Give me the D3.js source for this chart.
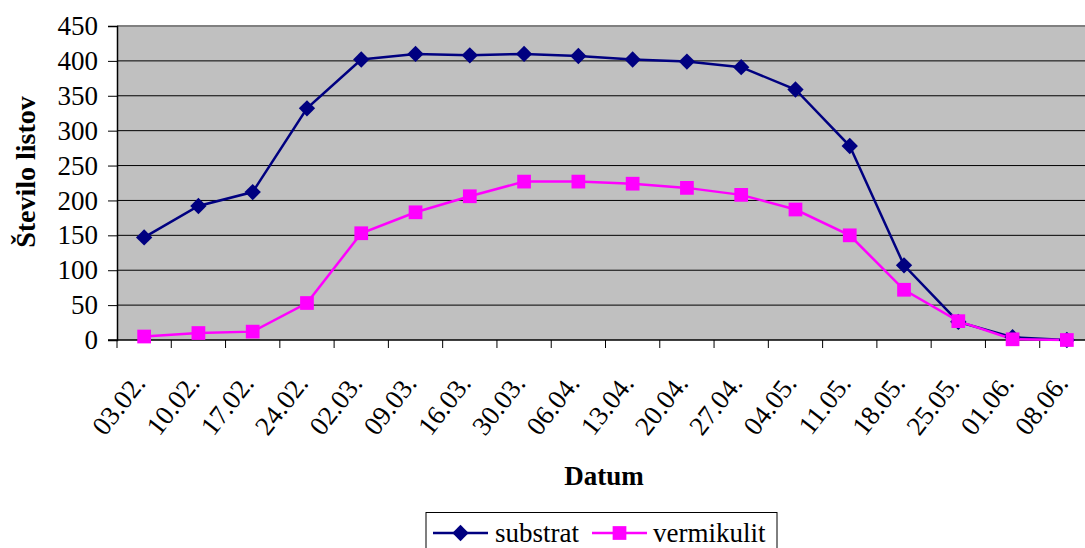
<!DOCTYPE html>
<html>
<head>
<meta charset="utf-8">
<script src="https://cdn.jsdelivr.net/npm/d3@7"></script>
<style>
  body { margin: 0; background: #fff; }
  svg { display: block; font-family: "Liberation Serif", "Times New Roman", serif; }
</style>
</head>
<body>
<svg id="chart" width="1085" height="548"></svg>
<script>
// data
const dates = ['03.02.', '10.02.', '17.02.', '24.02.', '02.03.', '09.03.', '16.03.', '30.03.', '06.04.',
  '13.04.', '20.04.', '27.04.', '04.05.', '11.05.', '18.05.', '25.05.', '01.06.', '08.06.'];
const substrat = [147, 192, 212, 332, 402, 410, 408, 410, 407, 402, 399, 391, 359, 278, 107, 26, 4, 0];
const vermikulit = [5, 10, 12, 53, 153, 183, 206, 227, 227, 224, 218, 208, 187, 150, 72, 27, 1, 0];
const yTicks = [0, 50, 100, 150, 200, 250, 300, 350, 400, 450];

const svg = d3.select('#chart');
const margin = { left: 117, top: 26 };
const plotW = 977, plotH = 314;

const x = d3.scaleBand().domain(dates).range([margin.left, margin.left + plotW]);
const y = d3.scaleLinear().domain([0, 450]).range([margin.top + plotH, margin.top]);

// plot background
svg.append('rect')
  .attr('x', margin.left).attr('y', margin.top)
  .attr('width', plotW).attr('height', plotH)
  .attr('fill', '#c0c0c0');

// gridlines
svg.append('g').selectAll('line').data(yTicks.filter(d => d > 0 && d < 450))
  .join('line')
    .attr('x1', margin.left).attr('x2', margin.left + plotW)
    .attr('y1', d => y(d)).attr('y2', d => y(d))
    .attr('stroke', '#000').attr('stroke-width', 1);

// top border of the plot area
svg.append('line')
  .attr('x1', margin.left).attr('x2', margin.left + plotW)
  .attr('y1', y(450)).attr('y2', y(450))
  .attr('stroke', '#808080').attr('stroke-width', 2);

// y axis
const yAxis = svg.append('g')
  .attr('transform', `translate(${margin.left},0)`)
  .call(d3.axisLeft(y).tickValues(yTicks).tickSize(9).tickPadding(10));
yAxis.select('.domain').attr('stroke', '#000').attr('stroke-width', 1.5);
yAxis.selectAll('text').attr('font-size', 27).attr('fill', '#000')
  .attr('font-family', '"Liberation Serif", serif');

// x axis: ticks sit at category boundaries
const bottom = y(0);
svg.append('line')
  .attr('x1', margin.left - 9).attr('x2', margin.left + plotW)
  .attr('y1', bottom).attr('y2', bottom)
  .attr('stroke', '#000').attr('stroke-width', 1.5);
svg.append('g').selectAll('line').data(dates)
  .join('line')
    .attr('x1', d => x(d)).attr('x2', d => x(d))
    .attr('y1', bottom).attr('y2', bottom + 8)
    .attr('stroke', '#000').attr('stroke-width', 1);

svg.append('g').selectAll('text').data(dates)
  .join('text')
    .attr('transform', d => `translate(${x(d) + x.bandwidth() / 2 - 5},${bottom + 38}) rotate(-52)`)
    .attr('text-anchor', 'end')
    .attr('dy', '0.35em')
    .attr('font-size', 27)
    .text(d => d);

// axis titles
svg.append('text')
  .attr('x', 604).attr('y', 485)
  .attr('text-anchor', 'middle')
  .attr('font-size', 27).attr('font-weight', 'bold')
  .text('Datum');

svg.append('text')
  .attr('transform', 'translate(35,172) rotate(-90)')
  .attr('text-anchor', 'middle')
  .attr('font-size', 28).attr('font-weight', 'bold')
  .text('Število listov');

// series
const cx = (d, i) => x(dates[i]) + x.bandwidth() / 2;
const line = d3.line().x(cx).y(d => y(d));

const series = [
  { name: 'substrat', values: substrat, colour: '#000080', symbol: d3.symbolDiamond2, size: 170 },
  { name: 'vermikulit', values: vermikulit, colour: '#ff00ff', symbol: d3.symbolSquare2, size: 240 }
];

series.forEach(s => {
  svg.append('path')
    .datum(s.values)
    .attr('d', line)
    .attr('fill', 'none')
    .attr('stroke', s.colour)
    .attr('stroke-width', 2.5);
});

// markers on top of both lines
series.forEach(s => {
  svg.append('g').selectAll('path').data(s.values)
    .join('path')
      .attr('transform', (d, i) => `translate(${cx(d, i)},${y(d)})`)
      .attr('d', d3.symbol(s.symbol, s.size))
      .attr('fill', s.colour);
});

// legend
const legend = svg.append('g');
legend.append('rect')
  .attr('x', 426).attr('y', 512.5)
  .attr('width', 351).attr('height', 50)
  .attr('fill', '#fff').attr('stroke', '#000').attr('stroke-width', 1);

const legendItems = [
  { s: series[0], x1: 433, x2: 488, tx: 495 },
  { s: series[1], x1: 592, x2: 647, tx: 653 }
];
legendItems.forEach(it => {
  const g = legend.append('g');
  g.append('line')
    .attr('x1', it.x1).attr('x2', it.x2)
    .attr('y1', 533).attr('y2', 533)
    .attr('stroke', it.s.colour).attr('stroke-width', 2.5);
  g.append('path')
    .attr('transform', `translate(${(it.x1 + it.x2) / 2},533)`)
    .attr('d', d3.symbol(it.s.symbol, it.s.size))
    .attr('fill', it.s.colour);
  g.append('text')
    .attr('x', it.tx).attr('y', 542)
    .attr('font-size', 27)
    .text(it.s.name);
});
</script>
</body>
</html>
